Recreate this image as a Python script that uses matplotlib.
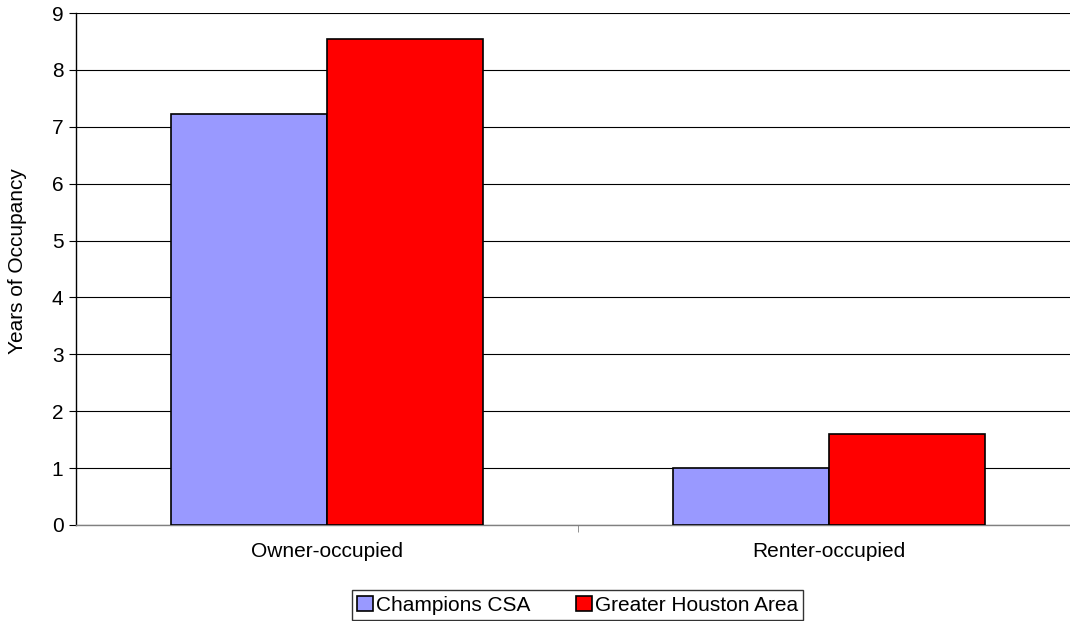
import matplotlib
matplotlib.use("Agg")
import matplotlib.pyplot as plt
import numpy as np

categories = ["Owner-occupied", "Renter-occupied"]
series_names = ["Champions CSA", "Greater Houston Area"]
champions = [7.23, 1.01]
houston = [8.54, 1.60]
colors = ["#9999FF", "#FF0000"]
yticks = list(range(0, 10))

plt.rcParams['font.family'] = ['Liberation Sans', 'DejaVu Sans']
FS = 15

fig = plt.figure(figsize=(10.70, 6.21), dpi=100)
ax = fig.add_axes([0.071, 0.1546, 0.938, 0.8244])

x = np.arange(len(categories))
w = 0.311
for i, (vals, name, c) in enumerate(zip([champions, houston], series_names, colors)):
    ax.bar(x + (i - 0.5) * w, vals, width=w, color=c, edgecolor="black",
           linewidth=1.2, label=name, zorder=3)

ax.set_xlim(-0.5, 1.5)
ax.set_ylim(0, 9)
ax.set_yticks(yticks)
ax.set_yticklabels([str(t) for t in yticks], fontsize=FS)
ax.yaxis.grid(True, color="#000000", linewidth=0.8, zorder=0)
ax.set_axisbelow(True)

ax.set_xticks(x)
ax.set_xticklabels(categories, fontsize=FS)
ax.tick_params(axis="x", which="major", length=0, pad=12)
ax.set_xticks([0.5], minor=True)
ax.tick_params(axis="x", which="minor", length=5, direction="out", color="#808080")
ax.tick_params(axis="y", length=5, direction="out", width=0.8, pad=4)

for s in ["top", "right"]:
    ax.spines[s].set_visible(False)
ax.spines["left"].set_linewidth(1.0)
ax.spines["bottom"].set_color("#808080")
ax.spines["bottom"].set_linewidth(1.0)

ax.set_ylabel("Years of Occupancy", fontsize=FS)
ax.yaxis.set_label_coords(-0.049, 0.515)

leg = fig.legend(*ax.get_legend_handles_labels(), loc="lower center",
                 bbox_to_anchor=(0.540, 0.002), ncol=2,
                 frameon=True, fancybox=False, edgecolor="black", fontsize=FS,
                 handlelength=0.75, handleheight=0.75, handletextpad=0.15,
                 columnspacing=2.2, borderpad=0.25, borderaxespad=0)
leg.get_frame().set_linewidth(1.0)

fig.savefig("out.png", dpi=100)
